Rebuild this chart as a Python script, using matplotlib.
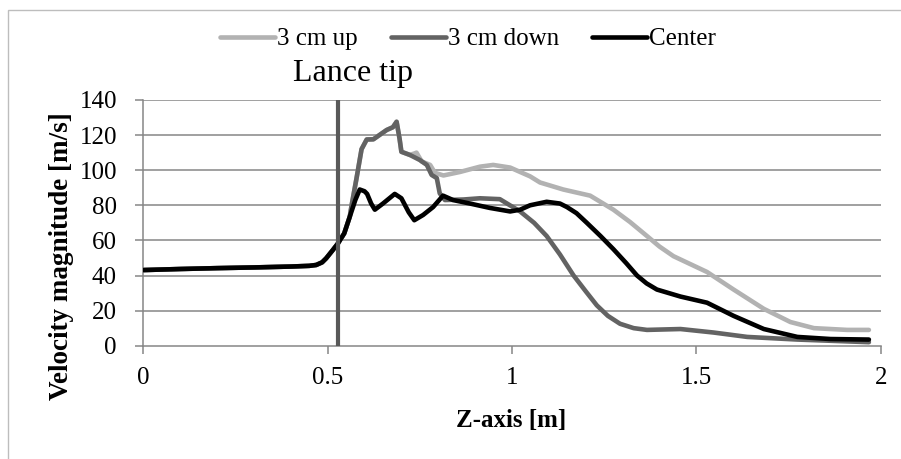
import matplotlib
matplotlib.use("Agg")
import matplotlib.pyplot as plt
from matplotlib.patches import Rectangle

# values
lance_tip_z = 0.529

z_start = [0.0, 0.1, 0.2, 0.3, 0.4, 0.45, 0.469, 0.485, 0.496, 0.514, 0.528, 0.545, 0.56]
v_start = [43.1, 43.7, 44.2, 44.6, 45.1, 45.5, 46.0, 47.5, 49.8, 54.5, 58.3, 64.0, 73.5]

z_center = [0.575, 0.587, 0.600, 0.607, 0.618, 0.628, 0.650, 0.682, 0.700, 0.720, 0.735,
            0.759, 0.786, 0.813, 0.840, 0.886, 0.940, 0.995, 1.022, 1.049, 1.094, 1.130,
            1.149, 1.175, 1.203, 1.240, 1.275, 1.310, 1.339, 1.365, 1.393, 1.457, 1.529,
            1.601, 1.683, 1.774, 1.864, 1.968]
v_center = [83.0, 89.0, 88.0, 86.5, 81.0, 77.5, 81.0, 86.5, 84.0, 76.0, 71.5,
            74.5, 79.0, 85.5, 83.0, 81.0, 78.5, 76.5, 77.5, 80.0, 82.0, 81.0,
            79.0, 75.5, 70.0, 62.5, 55.0, 47.0, 40.0, 35.5, 32.0, 28.0, 24.5,
            17.0, 9.5, 5.0, 3.8, 3.5]

z_down = [0.565, 0.578, 0.592, 0.606, 0.624, 0.660, 0.677, 0.687, 0.695, 0.700, 0.723,
          0.750, 0.769, 0.782, 0.796, 0.804, 0.818, 0.868, 0.913, 0.967, 1.022, 1.060,
          1.094, 1.130, 1.167, 1.200, 1.230, 1.260, 1.293, 1.330, 1.366, 1.457, 1.547,
          1.638, 1.774, 1.968]
v_down = [80.0, 95.0, 112.0, 117.5, 117.6, 122.9, 124.5, 127.6, 118.0, 110.5, 108.7,
          105.8, 103.0, 97.3, 95.5, 86.8, 83.0, 83.3, 84.0, 83.5, 76.5, 70.0,
          62.5, 52.0, 40.0, 31.0, 23.0, 17.0, 12.5, 10.0, 9.0, 9.5, 7.5,
          5.0, 3.5, 2.0]

z_up = [0.565, 0.578, 0.592, 0.606, 0.624, 0.660, 0.677, 0.687, 0.695, 0.700, 0.723,
        0.735, 0.741, 0.755, 0.778, 0.791, 0.814, 0.859, 0.913, 0.949, 0.995, 1.049,
        1.076, 1.139, 1.212, 1.275, 1.320, 1.366, 1.400, 1.438, 1.529, 1.601, 1.683,
        1.755, 1.819, 1.909, 1.968]
v_up = [80.0, 95.0, 112.0, 117.5, 117.6, 122.9, 124.5, 127.6, 118.0, 110.5, 108.7,
        109.5, 110.0, 105.0, 103.0, 98.5, 97.0, 99.0, 102.0, 103.0, 101.5, 96.5,
        93.0, 89.0, 85.5, 77.5, 70.5, 62.5, 56.5, 51.0, 42.0, 32.0, 21.0,
        13.5, 10.0, 9.0, 9.0]

series_labels = ["3 cm up", "3 cm down", "Center"]
series_colors = ["#b2b2b2", "#636363", "#000000"]
x_ticks = [0, 0.5, 1, 1.5, 2]
x_tick_labels = ["0", "0.5", "1", "1.5", "2"]
y_ticks = [0, 20, 40, 60, 80, 100, 120, 140]

plt.rcParams['font.family'] = ['Liberation Serif', 'DejaVu Serif']
W, H = 901, 459
fig = plt.figure(figsize=(W / 100, H / 100), dpi=100)

# outer chart border, cut by the image edges like the reference
fig.patches.append(Rectangle((8 / W, -0.1), 1.2, 1 - 10 / H + 0.1, transform=fig.transFigure,
                             fill=False, edgecolor="#bdbdbd", linewidth=1.0))

ax = fig.add_axes([143.3 / W, 1 - 345.7 / H, (880.7 - 143.3) / W, (345.7 - 100) / H])

grid_col = "#868686"
for y in y_ticks[1:]:
    ax.axhline(y, color=grid_col, linewidth=1.1, zorder=1)

lw = 3.3
series = [(z_start + z_up, v_start + v_up), (z_start + z_down, v_start + v_down),
          (z_start + z_center, v_start + v_center)]
for (zz, vv), lab, col in zip(series, series_labels, series_colors):
    ax.plot(zz, vv, color=col, linewidth=lw, label=lab, solid_capstyle='round',
            solid_joinstyle='round', zorder=3)

ax.axvline(lance_tip_z, color="#595959", linewidth=3.0, zorder=4, solid_capstyle='round')

ax.set_xlim(0, 2)
ax.set_ylim(0, 140)
ax.set_xticks(x_ticks)
ax.set_xticklabels(x_tick_labels)
ax.set_yticks(y_ticks)
for s in ["top", "right"]:
    ax.spines[s].set_visible(False)
for s in ["left", "bottom"]:
    ax.spines[s].set_color(grid_col)
    ax.spines[s].set_linewidth(1.1)
ax.tick_params(axis='both', colors=grid_col, labelcolor='black', labelsize=18, length=6, width=1.1)
ax.tick_params(axis='x', pad=9)
ax.tick_params(axis='y', pad=13)

fig.text(511 / W, 1 - 420 / H, "Z-axis [m]", ha='center', va='center', fontsize=18, fontweight='bold')
fig.text(61 / W, 1 - 256 / H, "Velocity magnitude [m/s]", ha='center', va='center',
         rotation=90, fontsize=19.5, fontweight='bold')
fig.text(353 / W, 1 - 73 / H, "Lance tip", ha='center', va='center', fontsize=23)

handles, labels = ax.get_legend_handles_labels()
fig.legend(handles, labels, loc='center', bbox_to_anchor=(468 / W, 1 - 39 / H), ncol=3,
           frameon=False, fontsize=18, handlelength=2.2, handletextpad=0.1, columnspacing=1.3,
           borderpad=0, borderaxespad=0)

fig.savefig("out.png", dpi=100)
